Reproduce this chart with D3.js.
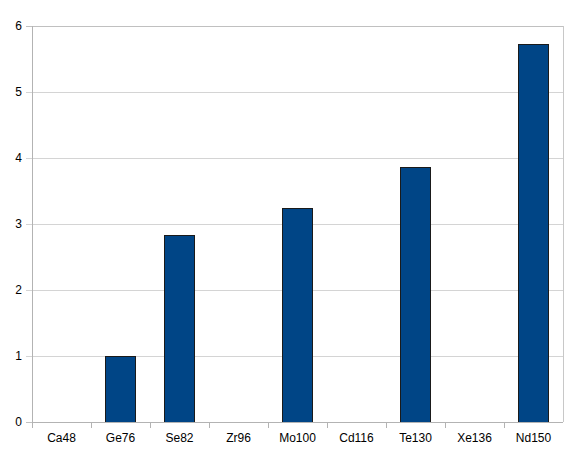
<!DOCTYPE html>
<html>
<head>
<meta charset="utf-8">
<script src="https://cdn.jsdelivr.net/npm/d3@7"></script>
<style>
  body { margin: 0; background: #fff; }
  svg { display: block; }
  text { font-family: "Liberation Sans", Arial, sans-serif; font-size: 12px; fill: #000; }
</style>
</head>
<body>
<div id="chart"></div>
<script>
// data
var isotopes = ["Ca48", "Ge76", "Se82", "Zr96", "Mo100", "Cd116", "Te130", "Xe136", "Nd150"];
var values = [null, 1.0, 2.83, null, 3.25, null, 3.87, null, 5.73];
var yTicks = [0, 1, 2, 3, 4, 5, 6];

var width = 575, height = 454;
var margin = { top: 26, right: 12, bottom: 32, left: 32 };
var plotW = width - margin.left - margin.right,
  plotH = height - margin.top - margin.bottom;

var svg = d3.select("#chart")
  .append("svg")
  .attr("width", width)
  .attr("height", height);

var g = svg.append("g")
  .attr("transform", "translate(" + margin.left + "," + margin.top + ")");

var x = d3.scaleBand()
  .domain(isotopes)
  .range([0, plotW])
  .paddingInner(0.49)
  .paddingOuter(0.245);

var xEdge = d3.scaleLinear()
  .domain([0, isotopes.length])
  .range([0, plotW]);

var y = d3.scaleLinear()
  .domain([0, 6])
  .range([plotH, 0]);

// horizontal grid lines
g.selectAll(".grid")
  .data(yTicks)
  .enter().append("line")
  .attr("class", "grid")
  .attr("x1", -6)
  .attr("x2", plotW)
  .attr("y1", function(d) { return Math.round(y(d)) + 0.5; })
  .attr("y2", function(d) { return Math.round(y(d)) + 0.5; })
  .attr("stroke", function(d) { return d == 0 || d == 6 ? "#c0c0c0" : "#d4d4d4"; })
  .attr("stroke-width", 1);

// right border
g.append("line")
  .attr("x1", Math.round(plotW) + 0.5)
  .attr("x2", Math.round(plotW) + 0.5)
  .attr("y1", 0)
  .attr("y2", plotH)
  .attr("stroke", "#c8c8c8");

// y labels
g.selectAll(".ylab")
  .data(yTicks)
  .enter().append("text")
  .attr("class", "ylab")
  .attr("x", -10)
  .attr("y", function(d) { return y(d); })
  .attr("dy", "0.35em")
  .attr("text-anchor", "end")
  .text(function(d) { return d; });

// bars
g.selectAll(".bar")
  .data(isotopes.map(function(k, i) { return { key: k, val: values[i] }; })
    .filter(function(d) { return d.val != null; }))
  .enter().append("rect")
  .attr("class", "bar")
  .attr("x", function(d) { return Math.round(x(d.key)) + 0.5; })
  .attr("y", function(d) { return Math.round(y(d.val)) + 0.5; })
  .attr("width", Math.round(x.bandwidth()))
  .attr("height", function(d) { return Math.round(y(0)) - Math.round(y(d.val)); })
  .attr("fill", "#004586")
  .attr("stroke", "#1a1a1a")
  .attr("stroke-width", 1);

// x axis line and category ticks
g.append("line")
  .attr("x1", 0)
  .attr("x2", plotW)
  .attr("y1", Math.round(plotH) + 0.5)
  .attr("y2", Math.round(plotH) + 0.5)
  .attr("stroke", "#b3b3b3");

g.selectAll(".xtick")
  .data(d3.range(isotopes.length))
  .enter().append("line")
  .attr("class", "xtick")
  .attr("x1", function(d) { return Math.round(xEdge(d)) + 0.5; })
  .attr("x2", function(d) { return Math.round(xEdge(d)) + 0.5; })
  .attr("y1", plotH)
  .attr("y2", plotH + 6)
  .attr("stroke", "#b3b3b3");

// y axis line
g.append("line")
  .attr("x1", 0.5)
  .attr("x2", 0.5)
  .attr("y1", 0)
  .attr("y2", plotH + 6)
  .attr("stroke", "#b3b3b3");

g.selectAll(".xlab")
  .data(isotopes)
  .enter().append("text")
  .attr("class", "xlab")
  .attr("x", function(d) { return x(d) + x.bandwidth() / 2; })
  .attr("y", plotH + 20)
  .attr("text-anchor", "middle")
  .text(function(d) { return d; });
</script>
</body>
</html>
